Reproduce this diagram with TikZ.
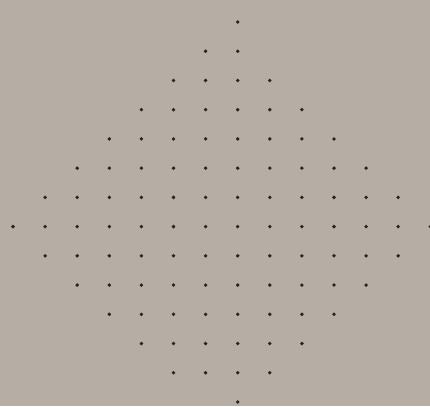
\documentclass[tikz,border=0pt]{standalone}
\definecolor{card}{RGB}{182,174,164}
\definecolor{ink}{RGB}{40,36,34}
\begin{document}
\begin{tikzpicture}[x=1pt,y=-1pt]
\tikzset{peg/.style={fill=ink}}
\fill[card] (0,0) rectangle (430,406);
\useasboundingbox (0,0) rectangle (430,406);
% row / first column / last column
\foreach \r/\a/\b in {1/7/7,2/6/7,3/5/8,4/4/9,5/3/10,6/2/11,7/1/12,8/0/13,
                      9/1/12,10/2/11,11/3/10,12/4/9,13/5/8,14/7/7}{
  \foreach \c in {\a,...,\b}
    \fill[peg] ({13+32.1*\c},{22+29.23*(\r-1)}) circle[radius=1.9];
}
\end{tikzpicture}
\end{document}
